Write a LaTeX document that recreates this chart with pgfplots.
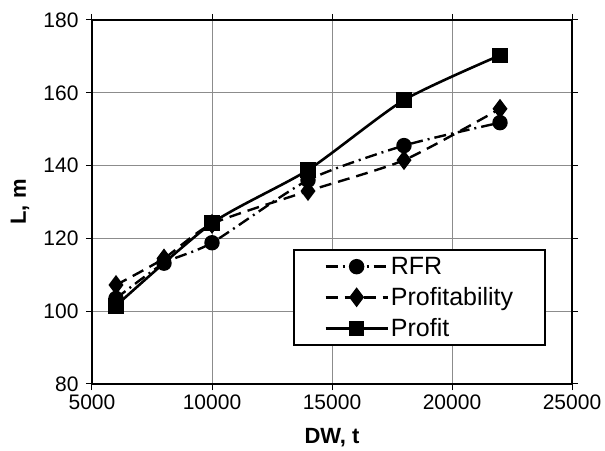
\documentclass[border=0pt]{standalone}
\usepackage{pgfplots}
\pgfplotsset{compat=1.18}
\usepackage{fontspec}
\setmainfont{Liberation Sans}
\begin{document}
\begin{tikzpicture}
\begin{axis}[
  scale only axis, width=480pt, height=364pt,
  xmin=5000, xmax=25000, ymin=80, ymax=180,
  xtick={5000,10000,15000,20000,25000},
  ytick={80,100,120,140,160,180},
  scaled x ticks=false,
  /pgf/number format/1000 sep={},
  /pgf/number format/assume math mode=true,
  tick label style={font=\fontsize{21}{23}\selectfont},
  yticklabel style={xshift=-4pt},
  xticklabel style={yshift=-1pt},
  grid=major,
  major grid style={black!45, line width=0.9pt},
  axis line style={line width=1.8pt},
  tick align=outside,
  major tick length=6pt,
  tick style={black, line width=1pt},
  xlabel={\textbf{DW, t}}, ylabel={\textbf{L, m}},
  xlabel style={font=\fontsize{22}{24}\selectfont, at={(axis description cs:0.5,-0.148)}, anchor=center},
  ylabel style={font=\fontsize{22}{24}\selectfont, at={(axis description cs:-0.15,0.5)}, anchor=center},
  legend cell align=left,
  legend style={at={(0.946,0.104)}, anchor=south east, draw=black, line width=1.8pt,
    font=\fontsize{25}{27}\selectfont, inner xsep=30pt, inner ysep=5pt, row sep=7.5pt},
  legend image code/.code={\draw[mark repeat=2, mark phase=2] plot coordinates {(0pt,0pt) (31pt,0pt) (62pt,0pt)};},
]
\addplot[black, line width=2.4pt, smooth, tension=0.4, dash pattern=on 12pt off 5pt on 2pt off 5pt,
  mark=*, mark size=6.5pt, mark options={solid}]
  coordinates {(6000,103.5) (8000,113.2) (10000,118.8) (14000,136) (18000,145.5) (22000,151.8)};
\addlegendentry{RFR}
\addplot[black, line width=2.4pt, smooth, tension=0.4, dash pattern=on 12pt off 7pt,
  mark=diamond*, mark size=8pt, mark options={solid}]
  coordinates {(6000,107.2) (8000,114.5) (10000,124) (14000,133) (18000,141.5) (22000,155.6)};
\addlegendentry{Profitability}
\addplot[black, line width=2.6pt, smooth, tension=0.4,
  mark=square*, mark size=6.5pt, mark options={solid}]
  coordinates {(6000,101.5) (10000,124.2) (14000,138.8) (18000,158) (22000,170.3)};
\addlegendentry{Profit}
\end{axis}
\path ([xshift=-92pt,yshift=-63pt]current axis.south west) rectangle ([xshift=33pt,yshift=20pt]current axis.north east);
\end{tikzpicture}
\end{document}
